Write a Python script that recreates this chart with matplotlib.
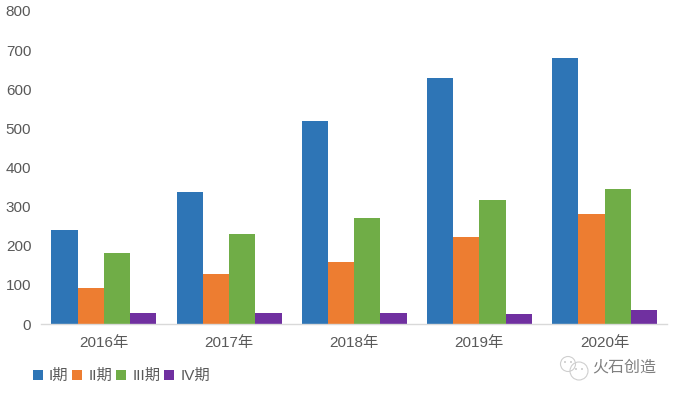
import numpy as np
import matplotlib
matplotlib.use("Agg")
import matplotlib.pyplot as plt
from matplotlib.patches import Circle
from matplotlib.transforms import IdentityTransform

plt.rcParams["font.family"] = ["Liberation Sans", "Noto Sans CJK SC", "DejaVu Sans"]

years = ["2016年", "2017年", "2018年", "2019年", "2020年"]
phase1 = [240, 338, 520, 630, 680]
phase2 = [92, 128, 158, 222, 282]
phase3 = [182, 230, 272, 317, 346]
phase4 = [29, 29, 29, 26, 36]
labels = ["I期", "II期", "III期", "IV期"]
colors = ["#2E75B6", "#ED7D31", "#70AD47", "#7030A0"]
yticks = [0, 100, 200, 300, 400, 500, 600, 700, 800]

W, H = 677, 396
fig = plt.figure(figsize=(W / 100, H / 100), dpi=100)
# axes box in pixels: x 41..667, y 11..324
ax = fig.add_axes([41 / W, 1 - 324 / H, 626 / W, 313 / H])

x = np.arange(len(years))
bw = 0.2095
for i, vals in enumerate([phase1, phase2, phase3, phase4]):
    ax.bar(x + (i - 1.5) * bw + 0.002, vals, bw, color=colors[i], label=labels[i])

ax.set_xlim(-0.5, 4.5)
ax.set_ylim(0, 800)
ax.set_yticks(yticks)
ax.set_xticks(x, years)
ax.tick_params(axis="both", length=0, labelsize=11, labelcolor="#595959")
ax.tick_params(axis="x", pad=8.5)
ax.tick_params(axis="y", pad=7)
for s in ["top", "right", "left"]:
    ax.spines[s].set_visible(False)
ax.spines["bottom"].set_color("#D9D9D9")
ax.spines["bottom"].set_linewidth(1.0)

fig.legend(loc="lower left", bbox_to_anchor=(22 / W, 1 - 394 / H), ncol=4, frameon=False,
           fontsize=11, labelcolor="#595959", handlelength=0.66, handleheight=0.66,
           handletextpad=0.4, columnspacing=0.25, borderpad=0.2)

# watermark in the lower right, positions in pixels from the bottom left
px = IdentityTransform()
for cx, cy, r in [(568, 364, 7.5), (579, 371, 9)]:
    fig.add_artist(Circle((cx, H - cy), r, transform=px, fill=False, ec="#CFCFCF", lw=0.8))
for cx, cy in [(565, 362), (571, 362), (576, 369), (582, 369)]:
    fig.add_artist(Circle((cx, H - cy), 0.9, transform=px, fc="#BDBDBD", ec="none"))
fig.text(592 / W, 1 - 367 / H, "火石创造", fontsize=11.5, color="#7F7F7F", va="center", ha="left",
         family=["Noto Sans CJK SC", "DejaVu Sans"])

fig.savefig("out.png", dpi=100)
